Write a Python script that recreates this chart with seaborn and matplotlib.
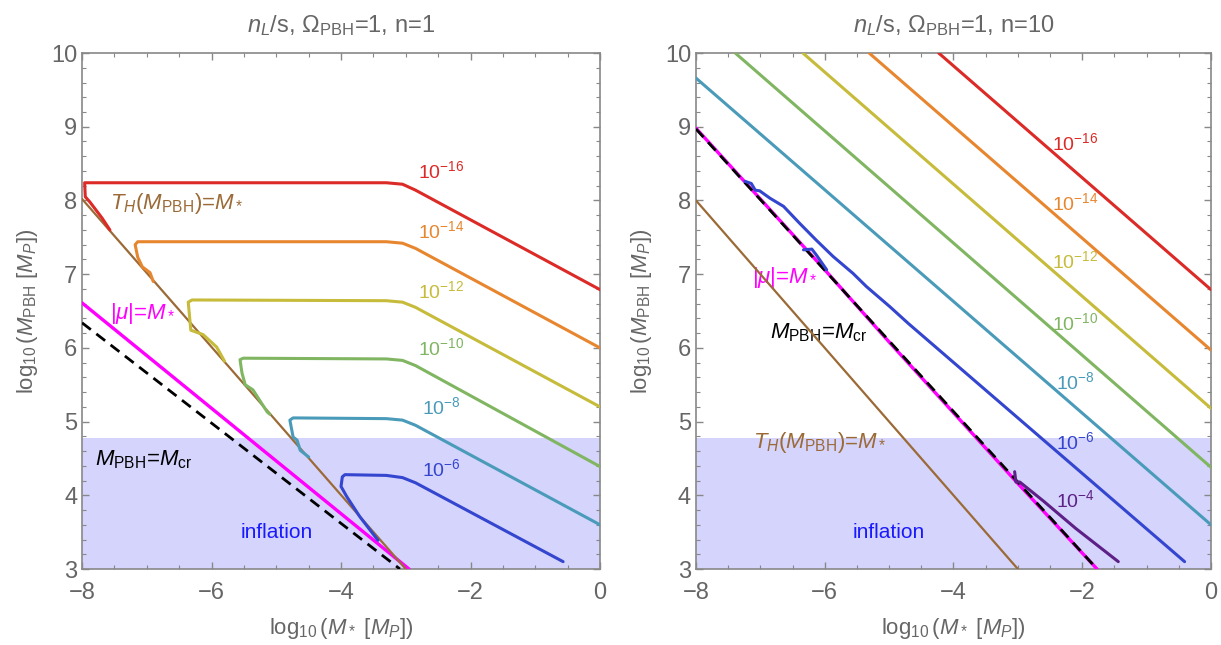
import matplotlib
matplotlib.use('Agg')
import matplotlib.pyplot as plt
import seaborn as sns
from matplotlib.ticker import MultipleLocator

# ---- values (x = log10 M*, y = log10 M_PBH) ----
levels = ['10^{-16}', '10^{-14}', '10^{-12}', '10^{-10}', '10^{-8}', '10^{-6}', '10^{-4}']
level_colors = ['#dc2a26', '#e8862f', '#c6bb3a', '#80b561', '#4a9bb9', '#3445cf', '#5e1f86']

# left panel, n = 1
L16_x = [-7.57, -7.69, -7.88, -7.95, -7.96, -3.30, -3.05, -2.85, 0.00]
L16_y = [7.60, 7.76, 7.98, 8.05, 8.24, 8.24, 8.22, 8.14, 6.79]
L14_x = [-6.90, -6.95, -7.07, -7.14, -7.18, -7.14, -3.30, -3.05, -2.85, 0.00]
L14_y = [6.90, 7.02, 7.10, 7.23, 7.40, 7.44, 7.44, 7.42, 7.35, 6.00]
L12_x = [-5.80, -5.92, -6.13, -6.32, -6.36, -6.30, -3.30, -3.05, -2.85, 0.00]
L12_y = [5.82, 6.01, 6.18, 6.24, 6.62, 6.65, 6.64, 6.62, 6.55, 5.20]
L10_x = [-5.10, -5.14, -5.36, -5.48, -5.53, -5.56, -5.51, -3.30, -3.05, -2.85, 0.00]
L10_y = [5.10, 5.13, 5.43, 5.50, 5.66, 5.84, 5.86, 5.85, 5.83, 5.76, 4.39]
L8_x = [-4.50, -4.63, -4.68, -4.74, -4.79, -4.74, -3.30, -3.05, -2.85, 0.00]
L8_y = [4.52, 4.61, 4.75, 4.79, 5.02, 5.05, 5.04, 5.02, 4.95, 3.60]
L6_x = [-3.43, -3.71, -3.91, -4.00, -3.98, -3.94, -3.30, -3.05, -2.85, -0.57]
L6_y = [3.39, 3.71, 3.98, 4.12, 4.25, 4.28, 4.27, 4.24, 4.17, 3.10]
left_TH_x, left_TH_y = [-8.00, -3.00], [8.02, 3.00]
left_mu_x, left_mu_y = [-8.00, -2.95], [6.61, 3.00]
left_cr_x, left_cr_y = [-8.00, -3.09], [6.34, 3.00]
left_label_y = [8.40, 7.58, 6.77, 6.00, 5.19, 4.36]

# right panel, n = 10
R16_x, R16_y = [-4.23, 0.00], [10.00, 6.79]
R14_x, R14_y = [-5.31, 0.00], [10.00, 5.97]
R12_x, R12_y = [-6.34, 0.00], [10.00, 5.18]
R10_x, R10_y = [-7.39, 0.00], [10.00, 4.38]
R8_x, R8_y = [-8.00, 0.00], [9.66, 3.60]
R6_x = [-7.24, -7.14, -7.08, -7.01, -6.85, -6.64, -6.39, -6.13, -5.87, -5.56,
        -5.35, -4.99, -4.70, -0.41]
R6_y = [8.26, 8.23, 8.14, 8.13, 8.03, 7.92, 7.69, 7.46, 7.24, 7.01,
        6.83, 6.56, 6.33, 3.10]
R6b_x = [-6.33, -6.20, -6.13, -5.97]
R6b_y = [7.33, 7.34, 7.26, 7.06]
R4_x = [-3.05, -3.03, -2.97, -2.60, -2.10, -1.44]
R4_y = [4.32, 4.18, 4.18, 3.92, 3.55, 3.10]
right_TH_x, right_TH_y = [-8.00, -3.00], [8.00, 3.00]
right_mu_x = [-8.00, -7.00, -6.00, -5.00, -4.00, -3.00, -1.77]
right_mu_y = [8.98, 8.02, 7.06, 6.08, 5.12, 4.16, 3.00]
right_cr_x, right_cr_y = [-8.00, -1.77], [8.97, 3.00]
right_label_y = [8.78, 7.97, 7.17, 6.34, 5.54, 4.72, 3.94]

infl_top = 4.78

# ---- style ----
sns.set_theme(style='ticks')
plt.rcParams['font.family'] = ['Liberation Sans', 'DejaVu Sans']
plt.rcParams['mathtext.fontset'] = 'custom'
plt.rcParams['mathtext.rm'] = 'Liberation Sans'
plt.rcParams['mathtext.it'] = 'Liberation Sans:italic'
plt.rcParams['mathtext.bf'] = 'Liberation Sans:bold'

grey = '#666666'
fig = plt.figure(figsize=(12.21, 6.45), dpi=100)
ax1 = fig.add_axes([0.0672, 0.1178, 0.4242, 0.800])
ax2 = fig.add_axes([0.5700, 0.1178, 0.4218, 0.800])


def line(ax, x, y, color, lw=2.2, **kw):
    sns.lineplot(x=x, y=y, ax=ax, color=color, lw=lw, sort=False,
                 estimator=None, legend=False, **kw)


def frame(ax, title):
    ax.axhspan(3, infl_top, color='#d4d4fc', zorder=0, lw=0)
    ax.set_xlim(-8, 0)
    ax.set_ylim(3, 10)
    ax.xaxis.set_major_locator(MultipleLocator(2))
    ax.xaxis.set_minor_locator(MultipleLocator(0.5))
    ax.yaxis.set_major_locator(MultipleLocator(1))
    ax.yaxis.set_minor_locator(MultipleLocator(0.2))
    ax.tick_params(which='both', direction='in', top=True, right=True,
                   color='#888888', labelcolor=grey, labelsize=17)
    ax.tick_params(which='major', length=5, width=1)
    ax.tick_params(which='minor', length=3, width=0.8)
    ax.tick_params(axis='x', which='major', pad=9)
    for s in ax.spines.values():
        s.set_color('#888888')
        s.set_linewidth(1.2)
    ax.set_title(title, fontsize=17, color=grey, pad=15)
    ax.set_xlabel(r'$\log_{10}(M_*\ [M_P])$', fontsize=16, color=grey, labelpad=9)
    ax.set_ylabel(r'$\log_{10}(M_{\rm PBH}\ [M_P])$', fontsize=16, color=grey, labelpad=8)
    ax.text(-5.0, 3.5, 'inflation', color='#1a1aff', fontsize=15,
            ha='center', va='center')


# ---- left panel ----
frame(ax1, r'$n_L$/s, $\Omega_{\rm PBH}$=1, n=1')
line(ax1, left_cr_x, left_cr_y, 'black', lw=2.0, linestyle=(0, (4, 2.5)), zorder=3)
line(ax1, left_mu_x, left_mu_y, '#ff00ff', lw=2.4, zorder=4)
line(ax1, left_TH_x, left_TH_y, '#9b6a36', lw=1.6, zorder=5)
left_curves = [(L16_x, L16_y), (L14_x, L14_y), (L12_x, L12_y),
               (L10_x, L10_y), (L8_x, L8_y), (L6_x, L6_y)]
for (cx, cy), c, lab, ly in zip(left_curves, level_colors, levels, left_label_y):
    line(ax1, cx, cy, c, zorder=6)
    ax1.text(-2.45, ly, f'${lab}$', color=c, fontsize=14, ha='center', va='center')
ax1.text(-7.57, 7.96, r'$T_H(M_{\rm PBH})$=$M_*$', color='#9b6a36', fontsize=16,
         ha='left', va='center')
ax1.text(-7.57, 6.46, r'$|\mu|$=$M_*$', color='#ff00ff', fontsize=16,
         ha='left', va='center')
ax1.text(-7.80, 4.48, r'$M_{\rm PBH}$=$M_{\rm cr}$', color='black', fontsize=16,
         ha='left', va='center')

# ---- right panel ----
frame(ax2, r'$n_L$/s, $\Omega_{\rm PBH}$=1, n=10')
line(ax2, right_mu_x, right_mu_y, '#ff00ff', lw=2.4, zorder=3)
line(ax2, right_cr_x, right_cr_y, 'black', lw=2.0, linestyle=(0, (4, 2.5)), zorder=4)
line(ax2, right_TH_x, right_TH_y, '#9b6a36', lw=1.6, zorder=5)
right_curves = [(R16_x, R16_y), (R14_x, R14_y), (R12_x, R12_y), (R10_x, R10_y),
                (R8_x, R8_y), (R6_x, R6_y), (R4_x, R4_y)]
for (cx, cy), c, lab, ly in zip(right_curves, level_colors, levels, right_label_y):
    line(ax2, cx, cy, c, zorder=6)
    ax2.text(-2.11, ly, f'${lab}$', color=c, fontsize=14, ha='center', va='center')
line(ax2, R6b_x, R6b_y, level_colors[5], zorder=6)
ax2.text(-7.13, 6.96, r'$|\mu|$=$M_*$', color='#ff00ff', fontsize=16,
         ha='left', va='center')
ax2.text(-6.85, 6.20, r'$M_{\rm PBH}$=$M_{\rm cr}$', color='black', fontsize=16,
         ha='left', va='center')
ax2.text(-7.11, 4.71, r'$T_H(M_{\rm PBH})$=$M_*$', color='#9b6a36', fontsize=16,
         ha='left', va='center')

fig.savefig('out.png', dpi=100)
